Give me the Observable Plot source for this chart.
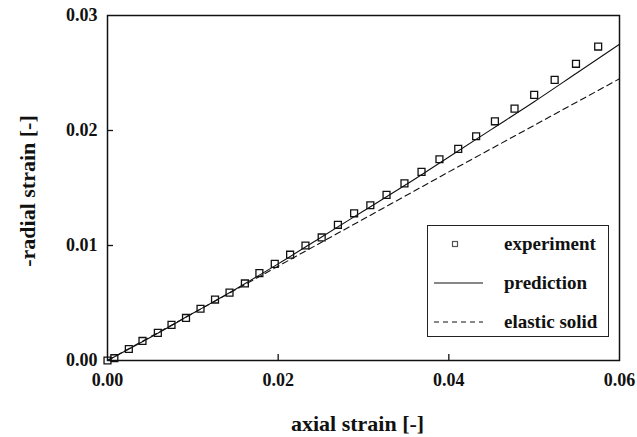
<!DOCTYPE html>
<html>
<head>
<meta charset="utf-8">
<script src="https://cdn.jsdelivr.net/npm/d3@7"></script>
<script src="https://cdn.jsdelivr.net/npm/@observablehq/plot@0.6"></script>
<style>
  body { margin: 0; background: #fff; }
  #wrap { position: relative; width: 637px; height: 437px; font-family: "Liberation Serif", serif; font-weight: bold; }
  #legend { position: absolute; left: 427px; top: 225px; width: 182px; height: 112px; border: 1.3px solid #222; background: #fff; box-sizing: border-box; }
  .row { position: absolute; left: 0; height: 20px; width: 100%; }
  .row svg { position: absolute; left: 6px; top: 0; }
  .row span { position: absolute; left: 76px; top: 0; font-size: 19px; line-height: 20px; color: #111; white-space: nowrap; }
</style>
</head>
<body>
<div id="wrap"></div>
<script>
// ---- data ----
const expX = [0, 0.0008, 0.0025, 0.0041, 0.0059, 0.0075, 0.0092, 0.0109, 0.0126, 0.0143, 0.0161, 0.0178, 0.0196, 0.0214, 0.0232, 0.0251, 0.0270, 0.0289, 0.0308, 0.0327, 0.0348, 0.0368, 0.0389, 0.0411, 0.0432, 0.0454, 0.0477, 0.0500, 0.0524, 0.0549, 0.0575];
const expY = [0, 0.0002, 0.0010, 0.0017, 0.0024, 0.0031, 0.0037, 0.0045, 0.0053, 0.0059, 0.0067, 0.0076, 0.0084, 0.0092, 0.0100, 0.0107, 0.0118, 0.0128, 0.0135, 0.0144, 0.0154, 0.0164, 0.0175, 0.0184, 0.0195, 0.0208, 0.0219, 0.0231, 0.0244, 0.0258, 0.0273];
const predX = [0, 0.005, 0.01, 0.015, 0.02, 0.025, 0.03, 0.035, 0.04, 0.045, 0.05, 0.055, 0.06];
const predY = [0, 0.0020, 0.0041, 0.0062, 0.0084, 0.0107, 0.0130, 0.0153, 0.0177, 0.0201, 0.0225, 0.0250, 0.0275];
const elasX = [0, 0.02, 0.04, 0.06];
const elasY = [0, 0.0082, 0.0164, 0.0245];
const xTicks = [0, 0.02, 0.04, 0.06];
const yTicks = [0, 0.01, 0.02, 0.03];
const xInnerTicks = [0.02, 0.04];
const yInnerTicks = [0.01, 0.02];
const xTitle = "axial strain [-]";
const yTitle = "-radial strain [-]";
const seriesNames = ["experiment", "prediction", "elastic solid"];

const exp = expX.map((x, i) => ({x, y: expY[i]}));
const pred = predX.map((x, i) => ({x, y: predY[i]}));
const elas = elasX.map((x, i) => ({x, y: elasY[i]}));

const W = 637, H = 437, mL = 107, mR = 18, mT = 15, mB = 77;
const plotW = W - mL - mR, plotH = H - mT - mB;
const fmt = d3.format(".2f");

const chart = Plot.plot({
  width: W, height: H,
  marginLeft: mL, marginRight: mR, marginTop: mT, marginBottom: mB,
  style: {fontFamily: "Liberation Serif, serif", fontWeight: "bold", fontSize: "18px", color: "#111", background: "white"},
  x: {domain: [0, 0.06], axis: null},
  y: {domain: [0, 0.03], axis: null},
  marks: [
    Plot.axisX(xTicks, {tickSize: 0, tickPadding: 13, tickFormat: fmt, fontSize: 18, fontWeight: "bold", label: null}),
    Plot.axisY(yTicks, {tickSize: 0, tickPadding: 10, tickFormat: fmt, fontSize: 18, fontWeight: "bold", label: null}),
    Plot.tickX(xInnerTicks, {x: d => d, insetTop: plotH - 6, stroke: "#111", strokeWidth: 1.3}),
    Plot.tickY(yInnerTicks, {y: d => d, insetRight: plotW - 6, stroke: "#111", strokeWidth: 1.3}),
    Plot.line(elas, {x: "x", y: "y", stroke: "#111", strokeWidth: 1.1, strokeDasharray: "6,4"}),
    Plot.line(pred, {x: "x", y: "y", stroke: "#111", strokeWidth: 1.1, curve: "monotone-x"}),
    Plot.dot(exp, {x: "x", y: "y", symbol: "square", r: 3.9, stroke: "#111", strokeWidth: 1.3, fill: "none"}),
    Plot.frame({stroke: "#111", strokeWidth: 1.5}),
    Plot.text([xTitle], {frameAnchor: "bottom", dx: -6, dy: 63, text: d => d, fontSize: 22, fontWeight: "bold", textAnchor: "middle", lineAnchor: "middle"}),
    Plot.text([yTitle], {frameAnchor: "left", dx: -80, dy: 3, rotate: -90, text: d => d, fontSize: 22, fontWeight: "bold", textAnchor: "middle", lineAnchor: "middle"})
  ]
});

const wrap = document.getElementById("wrap");
wrap.appendChild(chart);

// legend
const legend = document.createElement("div");
legend.id = "legend";
const rowTops = [8, 47, 86];
const symbols = [
  `<svg width="56" height="20"><rect x="18.5" y="7.5" width="5" height="5" fill="none" stroke="#555" stroke-width="1.2"/></svg>`,
  `<svg width="56" height="20"><line x1="0" y1="10" x2="49" y2="10" stroke="#111" stroke-width="1.1"/></svg>`,
  `<svg width="56" height="20"><line x1="0" y1="10" x2="49" y2="10" stroke="#111" stroke-width="1.1" stroke-dasharray="5,4"/></svg>`
];
seriesNames.forEach((name, i) => {
  const row = document.createElement("div");
  row.className = "row";
  row.style.top = rowTops[i] + "px";
  row.innerHTML = symbols[i] + `<span>${name}</span>`;
  legend.appendChild(row);
});
wrap.appendChild(legend);
</script>
</body>
</html>
